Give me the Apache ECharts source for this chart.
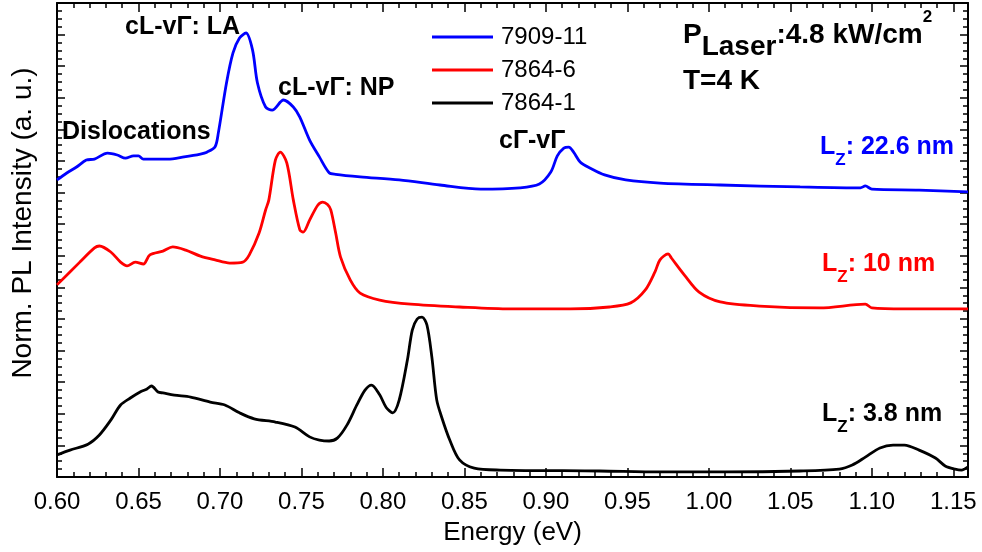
<!DOCTYPE html>
<html>
<head>
<meta charset="utf-8">
<script src="https://cdn.jsdelivr.net/npm/echarts@6/dist/echarts.min.js"></script>
<style>
html,body{margin:0;padding:0;background:#fff;}
#chart{width:982px;height:552px;}
</style>
</head>
<body>
<div id="chart"></div>
<script>
const seriesNames = ['7909-11', '7864-6', '7864-1'];
const seriesColors = ['#0000ff', '#ff0000', '#000000'];
const xTickLabels = ['0.60','0.65','0.70','0.75','0.80','0.85','0.90','0.95','1.00','1.05','1.10','1.15'];

const energyBlue = [0.600,0.606,0.612,0.618,0.623,0.631,0.637,0.642,0.647,0.650,0.653,0.668,0.678,0.688,0.692,0.697,0.699,0.704,0.708,0.712,0.716,0.720,0.723,0.728,0.732,0.739,0.745,0.749,0.755,0.761,0.767,0.771,0.786,0.810,0.835,0.860,0.884,0.896,0.903,0.907,0.911,0.914,0.917,0.921,0.927,0.936,0.949,0.970,1.007,1.056,1.093,1.096,1.100,1.129,1.159];
const intensityBlue = [9.40,9.62,9.81,10.03,10.06,10.25,10.19,10.09,10.16,10.16,10.06,10.06,10.13,10.22,10.28,10.45,10.89,12.47,13.42,13.89,14.05,13.51,12.47,11.71,11.61,11.93,11.71,11.39,10.66,10.13,9.63,9.58,9.50,9.40,9.24,9.11,9.15,9.27,9.65,10.16,10.41,10.44,10.28,9.97,9.78,9.56,9.40,9.30,9.24,9.18,9.15,9.21,9.11,9.08,9.02];

const energyRed = [0.600,0.614,0.623,0.626,0.633,0.639,0.643,0.648,0.653,0.657,0.665,0.671,0.679,0.688,0.697,0.706,0.714,0.718,0.724,0.728,0.730,0.734,0.737,0.741,0.745,0.749,0.751,0.755,0.760,0.763,0.766,0.768,0.771,0.774,0.780,0.786,0.798,0.817,0.847,0.878,0.915,0.939,0.952,0.961,0.967,0.970,0.975,0.977,0.985,0.994,1.007,1.031,1.068,1.096,1.100,1.120,1.159];
const intensityRed = [6.08,6.80,7.25,7.31,7.12,6.80,6.68,6.80,6.74,7.03,7.15,7.28,7.18,6.99,6.87,6.77,6.80,7.03,7.72,8.45,8.77,10.03,10.28,9.94,8.77,7.82,7.75,8.13,8.60,8.70,8.62,8.45,7.72,6.96,6.23,5.82,5.60,5.47,5.38,5.32,5.32,5.38,5.51,5.92,6.50,6.87,7.06,6.93,6.39,5.85,5.54,5.41,5.35,5.47,5.35,5.32,5.32];

const energyBlack = [0.600,0.608,0.619,0.626,0.633,0.639,0.645,0.651,0.655,0.658,0.662,0.665,0.672,0.682,0.694,0.703,0.712,0.721,0.734,0.746,0.755,0.761,0.767,0.772,0.778,0.784,0.789,0.793,0.798,0.802,0.806,0.810,0.815,0.818,0.821,0.824,0.827,0.830,0.833,0.836,0.841,0.847,0.856,0.872,0.933,0.970,1.010,1.056,1.080,1.088,1.096,1.105,1.113,1.120,1.129,1.139,1.145,1.151,1.155,1.159];
const intensityBlack = [0.70,0.85,1.04,1.33,1.80,2.28,2.50,2.69,2.78,2.88,2.69,2.66,2.59,2.53,2.37,2.28,2.03,1.84,1.74,1.58,1.27,1.17,1.14,1.23,1.65,2.28,2.75,2.91,2.60,2.20,2.03,2.44,3.70,4.65,5.00,5.06,4.81,3.80,2.44,1.90,1.17,0.54,0.28,0.22,0.19,0.16,0.16,0.19,0.25,0.38,0.63,0.92,1.01,1.01,0.85,0.60,0.35,0.25,0.22,0.32];

function pairs(xs, ys) { return xs.map((x, i) => [x, ys[i]]); }

const chart = echarts.init(document.getElementById('chart'), null, {renderer: 'canvas'});
const FONT = 'Liberation Sans, Arial, sans-serif';

const axisLineStyle = {color: '#000', width: 2};
const tickStyle = {color: '#000', width: 1.5};

function lzLabel(left, top, value, color) {
  return {type: 'text', left: left, top: top, style: {
    text: '{m|L}{s|Z}{m|: ' + value + '}',
    rich: {
      m: {fontFamily: FONT, fontWeight: 'bold', fontSize: 25, lineHeight: 42, fill: color},
      s: {fontFamily: FONT, fontWeight: 'bold', fontSize: 17, lineHeight: 17, verticalAlign: 'bottom', fill: color}
    }
  }};
}

const option = {
  backgroundColor: '#fff',
  animation: false,
  grid: {left: 57, right: 14, top: 3, bottom: 75, containLabel: false},
  legend: {
    orient: 'vertical',
    left: 427,
    top: 20,
    icon: 'rect',
    itemWidth: 61,
    itemHeight: 3,
    itemGap: 9,
    data: seriesNames,
    textStyle: {fontFamily: FONT, fontSize: 24, color: '#000', lineHeight: 24, padding: [0, 0, 0, 3]}
  },
  xAxis: [{
    type: 'value',
    min: 0.6, max: 1.159, interval: 0.05,
    name: 'Energy (eV)', nameLocation: 'middle', nameGap: 43,
    nameTextStyle: {fontFamily: FONT, fontSize: 26, color: '#000'},
    axisLine: {show: true, onZero: false, lineStyle: axisLineStyle},
    axisTick: {show: true, inside: true, length: 9, lineStyle: tickStyle},
    minorTick: {show: true, splitNumber: 5, length: 5, lineStyle: tickStyle},
    splitLine: {show: false},
    axisLabel: {
      fontFamily: FONT, fontSize: 24, color: '#000', margin: 13, showMaxLabel: false,
      formatter: function (v) { const s = v.toFixed(2); return xTickLabels.indexOf(s) >= 0 ? s : ''; }
    }
  }, {
    type: 'value', position: 'top',
    min: 0.6, max: 1.159, interval: 0.05,
    axisLine: {show: true, onZero: false, lineStyle: axisLineStyle},
    axisTick: {show: true, inside: true, length: 9, lineStyle: tickStyle},
    minorTick: {show: true, splitNumber: 5, length: 5, lineStyle: tickStyle},
    splitLine: {show: false},
    axisLabel: {show: false}
  }],
  yAxis: [{
    type: 'value', min: 0, max: 15, interval: 1,
    name: 'Norm. PL Intensity (a. u.)', nameLocation: 'middle', nameGap: 20,
    nameTextStyle: {fontFamily: FONT, fontSize: 28, color: '#000', padding: [0, 0, 0, 34]},
    axisLine: {show: true, onZero: false, lineStyle: axisLineStyle},
    axisTick: {show: true, inside: true, length: 8, lineStyle: tickStyle},
    minorTick: {show: true, splitNumber: 4, length: 5, lineStyle: tickStyle},
    splitLine: {show: false},
    axisLabel: {show: false}
  }, {
    type: 'value', position: 'right', min: 0, max: 15, interval: 1,
    axisLine: {show: true, onZero: false, lineStyle: axisLineStyle},
    axisTick: {show: true, inside: true, length: 8, lineStyle: tickStyle},
    minorTick: {show: true, splitNumber: 4, length: 5, lineStyle: tickStyle},
    splitLine: {show: false},
    axisLabel: {show: false}
  }],
  series: [
    {name: seriesNames[0], type: 'line', data: pairs(energyBlue, intensityBlue), showSymbol: false, symbol: 'none', smooth: 0.3, lineStyle: {color: seriesColors[0], width: 2.8}, itemStyle: {color: seriesColors[0]}},
    {name: seriesNames[1], type: 'line', data: pairs(energyRed, intensityRed), showSymbol: false, symbol: 'none', smooth: 0.3, lineStyle: {color: seriesColors[1], width: 2.8}, itemStyle: {color: seriesColors[1]}},
    {name: seriesNames[2], type: 'line', data: pairs(energyBlack, intensityBlack), showSymbol: false, symbol: 'none', smooth: 0.3, lineStyle: {color: seriesColors[2], width: 2.8}, itemStyle: {color: seriesColors[2]}}
  ],
  graphic: [
    {type: 'text', left: 125, top: 15, style: {text: 'cL-vΓ: LA', font: 'bold 25px ' + FONT, fill: '#000'}},
    {type: 'text', left: 278, top: 76, style: {text: 'cL-vΓ: NP', font: 'bold 25px ' + FONT, fill: '#000'}},
    {type: 'text', left: 62, top: 120, style: {text: 'Dislocations', font: 'bold 25px ' + FONT, fill: '#000'}},
    {type: 'text', left: 499, top: 129, style: {text: 'cΓ-vΓ', font: 'bold 25px ' + FONT, fill: '#000'}},
    {type: 'text', left: 683, top: 9, style: {
      text: '{m|P}{s|Laser}{m|:4.8 kW/cm}{p|2}',
      rich: {
        m: {fontFamily: FONT, fontWeight: 'bold', fontSize: 28, lineHeight: 52, fill: '#000'},
        s: {fontFamily: FONT, fontWeight: 'bold', fontSize: 28, lineHeight: 28, verticalAlign: 'bottom', fill: '#000'},
        p: {fontFamily: FONT, fontWeight: 'bold', fontSize: 17, lineHeight: 14, verticalAlign: 'top', fill: '#000'}
      }
    }},
    {type: 'text', left: 683, top: 67, style: {text: 'T=4 K', font: 'bold 28px ' + FONT, fill: '#000'}},
    lzLabel(820, 135, '22.6 nm', '#0000ff'),
    lzLabel(822, 252, '10 nm', '#ff0000'),
    lzLabel(822, 402, '3.8 nm', '#000000')
  ]
};
chart.setOption(option);
</script>
</body>
</html>
